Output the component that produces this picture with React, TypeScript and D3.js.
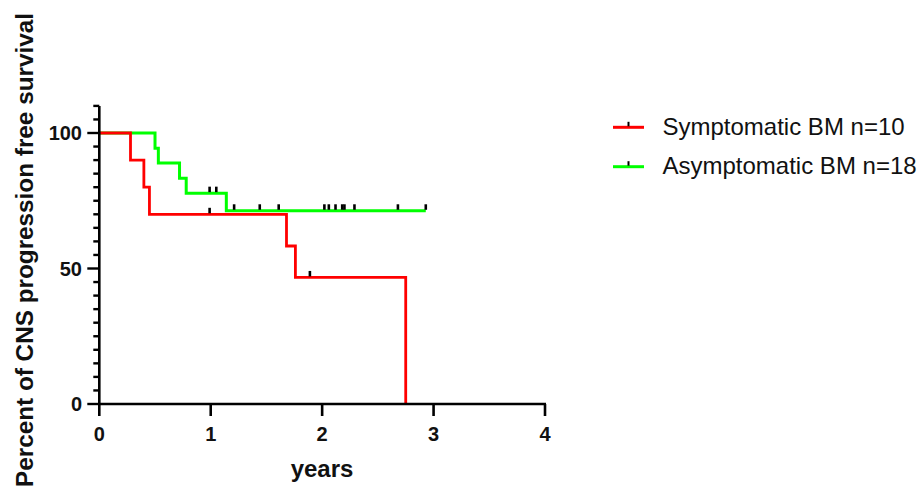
import React from "react";
import * as d3 from "d3";

// Kaplan–Meier steps
const redTimes = [0, 0.28, 0.4, 0.45, 1.68, 1.76, 2.75];
const redSurv = [100, 90, 80, 70, 58.3, 46.7, 0];
const redCensor = [0.99, 1.89];

const greenTimes = [0, 0.5, 0.53, 0.72, 0.78, 1.14];
const greenSurv = [100, 94.4, 88.9, 83.3, 77.8, 71.3];
const greenEnd = 2.93;
const greenCensor = [0.99, 1.05, 1.21, 1.44, 1.61, 2.02, 2.06, 2.12, 2.18, 2.2, 2.29, 2.68, 2.93];

const xTicks = [0, 1, 2, 3, 4];
const yMajor = [0, 50, 100];
const yMinor = d3.range(0, 111, 5);

const legendLabels = ["Symptomatic BM n=10", "Asymptomatic BM n=18"];
const colors = ["#ff0000", "#00ff00"];

const FONT = "'Liberation Sans', Arial, Helvetica, sans-serif";

function survAt(times: number[], surv: number[], t: number) {
  let s = surv[0];
  for (let i = 0; i < times.length; i++) if (times[i] <= t) s = surv[i];
  return s;
}

export default function App() {
  const W = 922, H = 493;
  const x = d3.scaleLinear().domain([0, 4]).range([99.3, 545]);
  const y = d3.scaleLinear().domain([0, 110]).range([404, 105.9]);

  const line = d3
    .line<[number, number]>()
    .x((d) => x(d[0]))
    .y((d) => y(d[1]))
    .curve(d3.curveStepAfter);

  const redPts: [number, number][] = redTimes.map((t, i) => [t, redSurv[i]]);
  const greenPts: [number, number][] = greenTimes.map((t, i) => [t, greenSurv[i]]);
  greenPts.push([greenEnd, greenSurv[greenSurv.length - 1]]);

  const censorMark = (t: number, s: number, key: string) => (
    <line key={key} x1={x(t)} x2={x(t)} y1={y(s) - 1} y2={y(s) - 6.5} stroke="#000" strokeWidth={2.6} />
  );

  return (
    <div style={{ position: "fixed", left: 0, top: 0 }}>
      <svg width={W} height={H} style={{ display: "block", background: "#fff" }} fontFamily={FONT}>
        {/* curves */}
        <path d={line(greenPts) || ""} fill="none" stroke={colors[1]} strokeWidth={3} />
        <path d={line(redPts) || ""} fill="none" stroke={colors[0]} strokeWidth={2.8} />
        {greenCensor.map((t, i) => censorMark(t, survAt(greenTimes, greenSurv, t), "g" + i))}
        {redCensor.map((t, i) => censorMark(t, survAt(redTimes, redSurv, t), "r" + i))}

        {/* y axis */}
        <line x1={x(0)} x2={x(0)} y1={y(0) + 1} y2={y(110)} stroke="#000" strokeWidth={2.6} />
        {yMinor.map((v) => (
          <line key={"ym" + v} x1={x(0) - (yMajor.includes(v) ? 12 : 6)} x2={x(0)} y1={y(v)} y2={y(v)} stroke="#000" strokeWidth={2.4} />
        ))}
        {yMajor.map((v) => (
          <text key={"yl" + v} x={82} y={y(v)} dy="0.36em" textAnchor="end" fontSize={20} fontWeight="bold" fill="#111">
            {v}
          </text>
        ))}

        {/* x axis */}
        <line x1={x(0)} x2={x(4) + 1} y1={y(0)} y2={y(0)} stroke="#000" strokeWidth={2.6} />
        {xTicks.map((v) => (
          <g key={"xt" + v}>
            <line x1={x(v)} x2={x(v)} y1={y(0)} y2={y(0) + 12} stroke="#000" strokeWidth={2.6} />
            <text x={x(v)} y={441} textAnchor="middle" fontSize={20} fontWeight="bold" fill="#111">
              {v}
            </text>
          </g>
        ))}

        {/* axis titles */}
        <text x={322} y={477} textAnchor="middle" fontSize={24} fontWeight="bold" fill="#111">
          years
        </text>
        <text transform="translate(33,250) rotate(-90)" textAnchor="middle" fontSize={24.3} fontWeight="bold" fill="#111">
          Percent of CNS progression free survival
        </text>

        {/* legend */}
        {legendLabels.map((lab, i) => {
          const ly = 127.3 + i * 39.4;
          return (
            <g key={"lg" + i}>
              <line x1={613} x2={644} y1={ly} y2={ly} stroke={colors[i]} strokeWidth={3} />
              <line x1={628.5} x2={628.5} y1={ly - 1} y2={ly - 5.5} stroke="#000" strokeWidth={2} />
              <text x={662.5} y={ly + 7.2} fontSize={24} fill="#111">
                {lab}
              </text>
            </g>
          );
        })}
      </svg>
    </div>
  );
}
